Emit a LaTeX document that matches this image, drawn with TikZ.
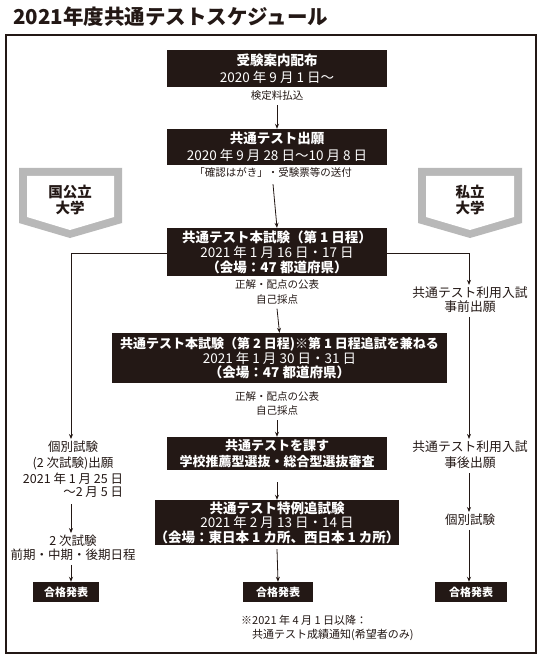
\documentclass[tikz,border=0pt]{standalone}
\usepackage{fontspec}
\setmainfont{Noto Sans CJK JP}
\usetikzlibrary{arrows.meta}
\definecolor{ink}{HTML}{231815}
\definecolor{band}{HTML}{B8B8B8}
\newcommand\fsz[2]{\fontsize{#1}{#2}\selectfont}
\begin{document}
\begin{tikzpicture}[x=1pt,y=-1pt,
  box/.style={fill=ink, text=white, inner sep=0pt, align=center},
  pass/.style={box, minimum height=20pt, font=\bfseries\fsz{11}{13}},
  note/.style={text=ink, inner sep=0pt, align=center},
  arr/.style={draw=ink, line width=0.8pt, -{Stealth[length=5pt,width=4pt]}},
  tag/.style={font=\bfseries\fsz{14.5}{16.5}, text=ink, align=center, inner sep=0pt}]
\useasboundingbox (0,0) rectangle (543,660);
\fill[white] (0,0) rectangle (543,660);
% title
\node[anchor=west, inner sep=0pt, text=ink, font=\bfseries\fsz{20.5}{22}] (title) at (13,17) {2021年度共通テストスケジュール};
% frame
\draw[draw=ink, line width=2.5pt] (6,35) rectangle (536,653);
% side tags
\fill[band] (19,168) -- (122,168) -- (122,223) -- (70,238) -- (19,223) -- cycle;
\fill[white] (27,176) -- (114,176) -- (114,217) -- (70,230) -- (27,217) -- cycle;
\node[tag] (tagL) at (70,200) {国公立\\大学};
\fill[band] (418,168) -- (522,168) -- (522,223) -- (470,238) -- (418,223) -- cycle;
\fill[white] (426,176) -- (514,176) -- (514,217) -- (470,230) -- (426,217) -- cycle;
\node[tag] (tagR) at (470,200) {私立\\大学};
% centre column
\node[box, minimum width=220pt, minimum height=37pt, font=\fsz{13.5}{17}] (b1) at (277,68.5)
  {\bfseries 受験案内配布\\2020 年 9 月 1 日～};
\node[note, font=\fsz{10.5}{12}] (l1) at (277,96) {検定料払込};
\node[box, minimum width=220pt, minimum height=36pt, font=\fsz{13.5}{17}] (b2) at (277,147)
  {\bfseries 共通テスト出願\\2020 年 9 月 28 日～10 月 8 日};
\node[note, font=\fsz{10.5}{12}] (l2) at (273,173) {「確認はがき」・受験票等の送付};
\node[box, minimum width=220pt, minimum height=48pt, font=\fsz{13.5}{15}] (b3) at (277,252)
  {\bfseries 共通テスト本試験（第 1 日程）\\2021 年 1 月 16 日・17 日\\\bfseries （会場：47 都道府県）};
\node[note, font=\fsz{10.5}{15}] (l3) at (277,292) {正解・配点の公表\\自己採点};
\node[box, minimum width=335pt, minimum height=50pt, font=\fsz{13.5}{14}] (b4) at (279.5,358)
  {{\bfseries\fsz{13}{14}共通テスト本試験（第 2 日程)※第 1 日程追試を兼ねる}\\2021 年 1 月 30 日・31 日\\\bfseries （会場：47 都道府県）};
\node[note, font=\fsz{10.5}{14}] (l4) at (277,404) {正解・配点の公表\\自己採点};
\node[box, minimum width=220pt, minimum height=33pt, font=\bfseries\fsz{13}{16}] (b5) at (277,453.5)
  {共通テストを課す\\学校推薦型選抜・総合型選抜審査};
\node[box, minimum width=220pt, minimum height=45pt, font=\fsz{13.5}{14.5}] (b6) at (277,522.5)
  {\bfseries 共通テスト特例追試験\\2021 年 2 月 13 日・14 日\\\bfseries （会場：東日本 1 カ所、西日本 1 カ所）};
\node[pass, minimum width=70pt] (pC) at (278,592) {合格発表};
\node[note, anchor=west, font=\fsz{11}{13}] (f1) at (241,620) {※2021 年 4 月 1 日以降：};
\node[note, anchor=west, font=\fsz{11}{13}] (f2) at (252,635) {共通テスト成績通知(希望者のみ)};
% left column
\coordinate (L) at (71,253);
\node[note, font=\fsz{12.5}{16}] (k1) at (73,463) {個別試験\\(2 次試験)出願\\2021 年 1 月 25 日};
\node[note, anchor=north east, font=\fsz{12.5}{16}] (k2) at ([yshift=-2pt]k1.south east) {～2 月 5 日};
\node[note, font=\fsz{12.5}{14}] (k3) at (73,548) {2 次試験\\前期・中期・後期日程};
\node[pass, minimum width=66pt] (pL) at (66,592) {合格発表};
% right column
\coordinate (R) at (469,253);
\node[note, font=\fsz{12.8}{14}] (r1) at (470,300) {共通テスト利用入試\\事前出願};
\node[note, font=\fsz{12.8}{16}] (r2) at (470,455) {共通テスト利用入試\\事後出願};
\node[note, font=\fsz{12.5}{14}] (r3) at (470,520) {個別試験};
\node[pass, minimum width=72pt] (pR) at (471,592) {合格発表};
% connectors centre
\draw[arr] ([yshift=-4pt]l1.south) -- (b2.north);
\draw[arr] ([yshift=-6pt]l2.south) -- (b3.north);
\draw[arr] ([yshift=-4pt]l3.south) -- (b4.north);
\draw[arr] ([yshift=-4pt]l4.south) -- (b5.north);
\draw[arr] ([yshift=-12pt]b5.south) -- (b6.north);
\draw[arr] ([yshift=-4pt]b6.south) -- (pC.north);
% connectors left
\draw[arr] (b3.west |- L) -- (L) -- ([yshift=2pt]L |- k1.north);
\draw[arr] ([yshift=-6pt]L |- k2.south) -- ([yshift=2pt]L |- k3.north);
\draw[arr] ([yshift=-4pt]L |- k3.south) -- (L |- pL.north);
% connectors right
\draw[arr] (b3.east |- R) -- (R) -- ([yshift=2pt]R |- r1.north);
\draw[arr] ([yshift=-4pt]R |- r1.south) -- ([yshift=2pt]R |- r2.north);
\draw[arr] ([yshift=-4pt]R |- r2.south) -- ([yshift=2pt]R |- r3.north);
\draw[arr] ([yshift=-4pt]R |- r3.south) -- (R |- pR.north);
\end{tikzpicture}
\end{document}
